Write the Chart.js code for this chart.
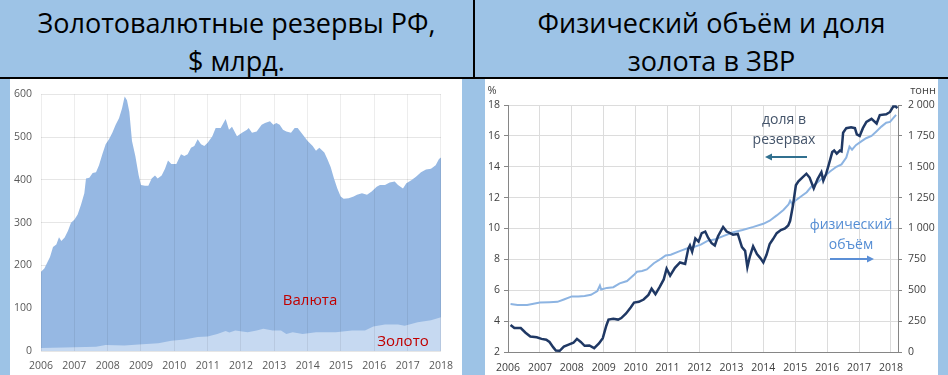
<!DOCTYPE html>
<html>
<head>
<meta charset="utf-8">
<script src="https://cdn.jsdelivr.net/npm/chart.js@4.4.0/dist/chart.umd.min.js"></script>
<style>
  body{margin:0;width:948px;height:375px;overflow:hidden;background:#9DC3E6;position:relative;font-family:'Open Sans',sans-serif;}
  .hdr{position:absolute;top:0;height:77px;text-align:center;font-size:27px;line-height:38px;color:#000;padding-top:4px;box-sizing:border-box;}
  .panel{position:absolute;top:79px;height:296px;background:#fff;}
  .panel canvas{position:absolute;left:0;top:0;}
  .lbl{position:absolute;transform:translate(-50%,-50%);white-space:nowrap;}
</style>
</head>
<body>
<div class="hdr" style="left:0;width:473px;">Золотовалютные резервы РФ,<br>$ млрд.</div>
<div class="hdr" style="left:475px;width:473px;">Физический объём и доля<br>золота в ЗВР</div>
<div style="position:absolute;left:473px;top:0;width:2px;height:79px;background:#000;"></div>
<div style="position:absolute;left:0;top:77px;width:948px;height:2px;background:#000;"></div>

<div class="panel" style="left:10px;width:452px;"><canvas id="c1" width="452" height="296"></canvas></div>
<div class="panel" style="left:485px;width:453px;"><canvas id="c2" width="453" height="296"></canvas></div>

<div class="lbl" style="left:310px;top:299px;font-size:15px;color:#C00000;">Валюта</div>
<div class="lbl" style="left:403px;top:340px;font-size:15px;color:#C00000;">Золото</div>

<div class="lbl" style="left:492px;top:89px;font-size:11px;color:#404040;">%</div>
<div class="lbl" style="left:923px;top:89px;font-size:11px;color:#404040;">тонн</div>
<div class="lbl" style="left:784px;top:118px;font-size:14px;color:#44546A;">доля в</div>
<div class="lbl" style="left:784px;top:138px;font-size:14px;color:#44546A;">резервах</div>
<div class="lbl" style="left:851px;top:223px;font-size:14px;color:#548DD4;">физический</div>
<div class="lbl" style="left:851px;top:243px;font-size:14px;color:#548DD4;">объём</div>
<svg style="position:absolute;left:0;top:0;" width="948" height="375">
  <line x1="807" y1="157" x2="770" y2="157" stroke="#31708F" stroke-width="2"/>
  <polygon points="765,157 772,153.5 772,160.5" fill="#31708F"/>
  <line x1="830" y1="259" x2="868" y2="259" stroke="#5B8FD6" stroke-width="2"/>
  <polygon points="874,259 867,255.5 867,262.5" fill="#5B8FD6"/>
</svg>

<script>
// ---------- Left chart data: FX reserves, $ bn ----------
const totalT = [2006.0,2006.1,2006.27,2006.36,2006.46,2006.54,2006.61,2006.71,2006.81,2006.9,
  2007.0,2007.1,2007.2,2007.3,2007.35,2007.45,2007.55,2007.65,2007.74,2007.84,2007.94,
  2008.04,2008.14,2008.24,2008.34,2008.43,2008.51,2008.58,2008.65,2008.73,2008.83,2008.93,
  2009.0,2009.12,2009.22,2009.32,2009.42,2009.5,2009.62,2009.72,2009.81,2009.91,
  2010.06,2010.2,2010.3,2010.4,2010.5,2010.6,2010.7,2010.8,2010.9,
  2011.0,2011.14,2011.24,2011.39,2011.54,2011.64,2011.73,2011.88,
  2012.03,2012.18,2012.23,2012.33,2012.47,2012.62,2012.72,2012.87,2012.97,
  2013.06,2013.16,2013.26,2013.36,2013.5,2013.61,2013.7,2013.85,
  2014.0,2014.15,2014.25,2014.35,2014.5,2014.59,2014.69,2014.79,2014.89,2014.99,
  2015.08,2015.23,2015.38,2015.48,2015.63,2015.78,2015.92,
  2016.07,2016.17,2016.32,2016.46,2016.61,2016.71,2016.86,2016.96,
  2017.11,2017.25,2017.4,2017.55,2017.7,2017.84,2017.94,2018.0];
const totalV = [185,193,220,243,249,266,257,265,281,300,
  307,319,342,369,403,405,416,418,434,460,483,
  495,510,529,544,567,595,586,559,491,456,411,
  388,386,386,403,410,403,410,426,445,437,
  437,460,456,460,475,479,495,483,479,
  487,502,521,521,542,517,524,502,
  510,517,521,510,513,529,533,537,529,
  533,529,517,513,510,521,521,506,
  491,479,468,475,464,449,430,403,380,361,
  356,357,361,365,369,365,373,
  384,388,388,394,396,388,380,392,
  399,407,418,424,426,434,449,452];
const goldT = [2006.0,2006.7,2007.65,2007.94,2008.5,2008.93,2009.52,2009.91,2010.3,2010.7,
  2011.0,2011.29,2011.54,2011.65,2011.83,2012.2,2012.47,2012.67,2012.95,2013.2,2013.36,
  2013.55,2013.85,2014.25,2014.84,2015.33,2015.72,2015.97,2016.32,2016.71,2016.91,
  2017.3,2017.7,2018.0];
const goldV = [7,8,10,14,13,15,18,24,27,33,
  34,40,47,43,48,44,48,52,48,48,40,
  44,40,44,44,48,48,57,62,62,59,
  67,72,79];

// ---------- Right chart data ----------
const shareT = [2006.08,2006.2,2006.4,2006.55,2006.7,2006.9,2007.05,2007.2,2007.3,2007.42,2007.5,2007.62,
  2007.75,2007.9,2008.05,2008.16,2008.28,2008.4,2008.55,2008.7,2008.85,2008.97,
  2009.08,2009.15,2009.3,2009.45,2009.55,2009.7,2009.85,2009.95,
  2010.1,2010.25,2010.4,2010.5,2010.62,2010.75,2010.88,2010.97,
  2011.08,2011.23,2011.39,2011.55,2011.65,2011.7,2011.77,2011.87,2011.97,
  2012.07,2012.18,2012.27,2012.38,2012.48,2012.58,2012.74,2012.85,2012.96,
  2013.05,2013.2,2013.33,2013.43,2013.5,2013.58,2013.68,2013.8,2013.9,
  2014.0,2014.1,2014.2,2014.3,2014.42,2014.55,2014.68,2014.78,2014.84,2014.93,
  2015.02,2015.1,2015.22,2015.35,2015.45,2015.58,2015.7,2015.82,2015.88,2015.97,
  2016.06,2016.16,2016.22,2016.3,2016.4,2016.45,2016.5,2016.6,2016.75,2016.87,2016.93,
  2017.02,2017.12,2017.23,2017.39,2017.55,2017.65,2017.85,2017.97,2018.07,2018.15,2018.2];
const shareV = [3.75,3.55,3.55,3.25,3.0,2.95,2.85,2.8,2.65,2.3,2.1,2.08,
  2.35,2.48,2.6,2.85,2.65,2.4,2.42,2.25,2.55,2.9,
  3.7,4.1,4.15,4.1,4.2,4.5,4.9,5.2,
  5.25,5.4,5.7,6.1,5.75,6.2,6.7,7.4,
  6.95,7.45,7.8,7.7,8.7,8.9,8.5,9.35,9.15,
  9.7,9.8,9.4,9.05,8.9,9.5,10.1,9.8,9.7,
  9.6,9.65,8.8,8.55,7.5,8.2,8.85,8.35,8.1,
  7.8,8.3,9.0,9.3,9.7,9.9,10.0,10.2,10.5,11.5,
  12.8,13.05,13.3,13.55,13.3,12.6,13.2,13.65,13.1,13.55,
  14.2,14.95,15.05,14.85,15.05,15.0,16.2,16.5,16.55,16.5,16.1,
  16.0,16.5,16.9,17.1,16.8,17.35,17.4,17.55,17.9,17.9,17.8];
const tonT = [2006.08,2006.3,2006.6,2006.8,2007.0,2007.3,2007.55,2007.75,2008.0,2008.2,2008.4,2008.6,
  2008.8,2008.88,2008.92,2009.1,2009.3,2009.5,2009.73,2009.95,
  2010.04,2010.2,2010.35,2010.57,2010.8,2010.94,2011.1,2011.4,2011.6,2011.75,
  2012.04,2012.25,2012.5,2012.74,2013.06,2013.35,2013.69,2014.0,2014.2,2014.42,2014.63,
  2014.79,2014.84,2014.9,2015.0,2015.2,2015.36,2015.5,2015.65,2015.82,2015.98,
  2016.1,2016.29,2016.45,2016.6,2016.7,2016.78,2016.9,2017.07,2017.22,2017.39,2017.55,
  2017.7,2017.85,2017.97,2018.07,2018.16];
const tonV = [388,381,381,390,400,403,406,425,450,450,453,463,
  494,538,506,519,525,556,575,625,
  650,656,669,719,756,781,788,819,838,844,
  869,900,913,938,969,988,1013,1038,1063,1106,1150,
  1194,1225,1200,1225,1263,1294,1338,1363,1400,1438,
  1463,1500,1519,1575,1663,1638,1675,1706,1731,1750,1788,
  1825,1856,1863,1894,1920];
const yearTicks = [2006,2007,2008,2009,2010,2011,2012,2013,2014,2015,2016,2017,2018];

const pts = (t, v) => t.map((x, i) => ({x: x, y: v[i]}));
Chart.defaults.font.family = "'Open Sans', sans-serif";

const yearsOnly = s => { s.ticks = yearTicks.map(v => ({value: v})); };

new Chart(document.getElementById('c1'), {
  type: 'line',
  data: {datasets: [
    {data: pts(goldT, goldV), fill: 'origin', backgroundColor: '#C6D9F1', borderWidth: 0, pointRadius: 0, order: 0},
    {data: pts(totalT, totalV), fill: 'origin', backgroundColor: '#96B8E3', borderWidth: 0, pointRadius: 0, order: 1}
  ]},
  options: {
    responsive: false, animation: false, devicePixelRatio: 1,
    layout: {padding: {top: 10, right: 15, left: 0, bottom: 0}},
    plugins: {legend: {display: false}, tooltip: {enabled: false}},
    scales: {
      x: {type: 'linear', min: 2006, max: 2018, afterBuildTicks: yearsOnly,
          ticks: {callback: v => String(v), color: '#595959', font: {size: 10.5}, padding: 9, maxRotation: 0, autoSkip: false},
          grid: {color: 'rgba(0,0,0,0.07)', drawTicks: false, z: 1}, border: {display: false},
          afterFit: s => { s.height = 24; }},
      y: {min: 0, max: 600, ticks: {stepSize: 100, color: '#595959', font: {size: 10.5}, padding: 9},
          grid: {color: '#E6E6E6', drawTicks: false}, border: {display: false},
          afterFit: s => { s.width = 31; }}
    }
  }
});

const fmtT = v => v >= 1000 ? Math.floor(v / 1000) + ' ' + String(v % 1000).padStart(3, '0') : String(v);

new Chart(document.getElementById('c2'), {
  type: 'line',
  data: {datasets: [
    {data: pts(shareT, shareV), yAxisID: 'y', borderColor: '#1F3864', borderWidth: 2.5, pointRadius: 0, fill: false, order: 0},
    {data: pts(tonT, tonV), yAxisID: 'y2', borderColor: '#8DB4E2', borderWidth: 2, pointRadius: 0, fill: false, order: 1}
  ]},
  options: {
    responsive: false, animation: false, devicePixelRatio: 1,
    layout: {padding: {top: 26, right: 0, left: 0, bottom: 0}},
    plugins: {legend: {display: false}, tooltip: {enabled: false}},
    scales: {
      x: {type: 'linear', min: 2006, max: 2018.22, afterBuildTicks: yearsOnly,
          ticks: {callback: v => String(v), color: '#404040', font: {size: 10.5}, padding: 10, maxRotation: 0, autoSkip: false},
          grid: {color: '#DCDCDC', drawTicks: false}, border: {display: true, color: '#868686'},
          afterFit: s => { s.height = 23; }},
      y: {position: 'left', min: 2, max: 18, ticks: {stepSize: 2, color: '#404040', font: {size: 10.5}, padding: 4},
          grid: {color: '#DCDCDC', tickColor: '#868686', tickLength: 4}, border: {display: true, color: '#868686'},
          afterFit: s => { s.width = 23; }},
      y2: {position: 'right', min: 0, max: 2000, ticks: {stepSize: 250, callback: fmtT, color: '#404040', font: {size: 10.5}, padding: 6},
          grid: {drawOnChartArea: false, tickColor: '#868686', tickLength: 4}, border: {display: true, color: '#868686'},
          afterFit: s => { s.width = 40; }}
    }
  }
});
</script>
</body>
</html>
